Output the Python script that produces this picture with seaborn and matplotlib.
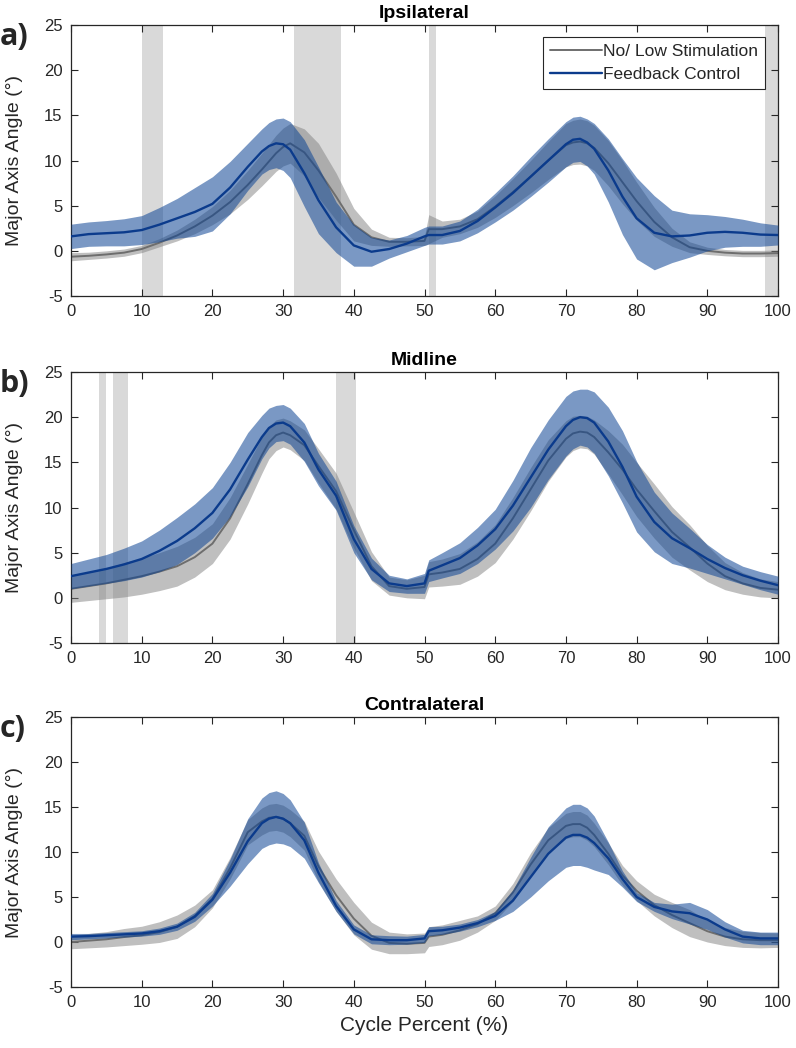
import numpy as np
import pandas as pd
import matplotlib
matplotlib.use("Agg")
import matplotlib.pyplot as plt
from matplotlib.lines import Line2D
import seaborn as sns

# ---------------- data ----------------
X = [0, 2.5, 5, 7.5, 10, 12.5, 15, 17.5, 20, 22.5, 25,
     27, 28, 29, 30, 31,
     33, 35, 37.5, 40, 42.5, 45, 47.5, 50,
     50.6, 52.5, 55, 57.5, 60, 62.5, 65, 67.5,
     70, 71, 72, 73, 74,
     76, 78, 80, 82.5, 85, 87.5, 90, 92.5, 95, 97.5, 100]

# Panel a - Ipsilateral
a_low_mean = [-0.65, -0.55, -0.4, -0.2, 0.2, 0.9, 1.7, 2.7, 3.9, 5.4, 7.3,
              9.0, 9.9, 10.8, 11.5, 11.9,
              10.9, 8.9, 6.0, 2.9, 1.5, 1.0, 1.0, 1.1,
              2.4, 2.4, 2.7, 3.5, 4.9, 6.5, 8.2, 10.0,
              11.7, 12.0, 12.1, 11.9, 11.4,
              9.7, 7.6, 5.5, 3.2, 1.5, 0.4, 0.0, -0.2, -0.3, -0.3, -0.25]
a_low_sd = [0.45, 0.4, 0.4, 0.4, 0.4, 0.45, 0.6, 0.8, 1.0, 1.3, 1.6,
            1.8, 1.9, 2.0, 2.1, 2.2,
            2.6, 3.0, 2.6, 1.8, 0.9, 0.5, 0.45, 0.5,
            1.6, 0.9, 0.8, 0.9, 1.2, 1.5, 1.8, 2.1,
            2.4, 2.45, 2.5, 2.5, 2.5,
            2.5, 2.4, 2.1, 1.6, 1.0, 0.6, 0.4, 0.35, 0.35, 0.35, 0.35]
a_fb_mean = [1.6, 1.85, 1.95, 2.05, 2.3, 2.9, 3.6, 4.3, 5.2, 7.0, 9.3,
             11.0, 11.6, 11.9, 11.8, 11.2,
             8.6, 5.6, 2.6, 0.6, -0.1, 0.2, 0.8, 1.6,
             1.75, 1.75, 2.2, 3.3, 4.8, 6.4, 8.2, 10.0,
             11.8, 12.3, 12.4, 12.0, 11.3,
             8.9, 6.0, 3.6, 2.0, 1.6, 1.7, 2.0, 2.1, 2.0, 1.8, 1.75]
a_fb_sd = [1.35, 1.35, 1.4, 1.5, 1.6, 1.9, 2.2, 2.7, 3.0, 2.9, 2.6,
           2.5, 2.6, 2.7, 2.9, 3.1,
           3.7, 3.7, 2.8, 2.3, 1.6, 1.0, 0.9, 1.0,
           1.0, 1.0, 1.1, 1.3, 1.6, 1.9, 2.2, 2.4,
           2.5, 2.5, 2.5, 2.6, 2.8,
           3.5, 4.2, 4.5, 4.1, 2.9, 2.4, 2.0, 1.7, 1.5, 1.3, 1.1]
a_sig = [(10.0, 13.0), (31.5, 38.2), (50.6, 51.6), (98.2, 100.0)]

# Panel b - Midline
b_low_mean = [1.0, 1.3, 1.6, 2.0, 2.4, 2.9, 3.5, 4.5, 6.0, 8.8, 12.6,
              15.8, 17.2, 18.0, 18.3, 18.0,
              16.9, 14.6, 11.8, 7.5, 3.5, 1.3, 1.0, 1.2,
              2.6, 2.8, 3.2, 4.3, 6.0, 8.8, 12.0, 15.2,
              17.6, 18.2, 18.4, 18.3, 17.8,
              16.1, 14.2, 12.0, 9.6, 7.3, 5.6, 3.8, 2.4, 1.6, 1.1, 0.9]
b_low_sd = [1.5, 1.6, 1.7, 1.9, 2.0, 2.1, 2.2, 2.2, 2.2, 2.3, 2.2,
            2.0, 1.8, 1.7, 1.6, 1.6,
            1.7, 1.9, 2.0, 2.0, 1.6, 1.0, 1.0, 1.3,
            1.4, 1.5, 1.7, 1.9, 2.1, 2.3, 2.4, 2.3,
            2.0, 1.9, 1.8, 1.8, 1.9,
            2.4, 2.8, 3.0, 3.0, 2.8, 2.5, 2.0, 1.5, 1.2, 1.0, 0.9]
b_fb_mean = [2.4, 2.8, 3.2, 3.7, 4.3, 5.2, 6.3, 7.7, 9.4, 12.0, 15.3,
             17.8, 18.8, 19.3, 19.4, 19.0,
             17.2, 14.2, 11.3, 6.5, 3.2, 1.6, 1.3, 1.6,
             3.0, 3.6, 4.4, 5.8, 7.6, 10.2, 13.3, 16.4,
             19.0, 19.7, 20.0, 19.9, 19.4,
             17.3, 14.5, 11.2, 8.4, 6.6, 5.5, 4.3, 3.3, 2.5, 1.9, 1.4]
b_fb_sd = [1.4, 1.5, 1.6, 1.8, 2.0, 2.3, 2.6, 2.7, 2.8, 3.0, 3.0,
           2.4, 2.2, 2.0, 2.0, 2.0,
           2.1, 1.8, 1.6, 1.5, 1.2, 0.9, 0.8, 1.1,
           1.2, 1.4, 1.7, 2.0, 2.2, 2.8, 3.3, 3.3,
           3.3, 3.2, 3.1, 3.2, 3.4,
           3.8, 4.0, 3.9, 3.3, 2.8, 2.2, 1.6, 1.2, 1.0, 1.0, 1.0]
b_sig = [(4.0, 5.0), (6.0, 8.0), (37.5, 40.3)]

# Panel c - Contralateral
c_low_mean = [0.0, 0.15, 0.3, 0.55, 0.75, 1.1, 1.7, 2.9, 4.8, 8.2, 12.2,
              13.4, 13.8, 13.9, 13.7, 13.2,
              11.8, 8.4, 5.2, 2.6, 0.7, -0.1, -0.2, -0.1,
              0.6, 0.8, 1.3, 2.0, 3.2, 5.5, 8.6, 11.3,
              12.9, 13.1, 13.1, 12.7, 11.9,
              9.8, 7.4, 5.7, 4.1, 3.0, 2.1, 1.2, 0.6, 0.3, 0.2, 0.2]
c_low_sd = [0.75, 0.8, 0.85, 0.95, 1.0, 1.15, 1.3, 1.2, 1.0, 1.2, 1.4,
            1.5, 1.5, 1.5, 1.5, 1.5,
            1.6, 1.7, 1.8, 1.8, 1.5, 1.2, 1.1, 1.1,
            1.1, 1.1, 1.1, 0.9, 0.8, 1.0, 1.3, 1.4,
            1.4, 1.4, 1.4, 1.4, 1.3,
            1.2, 1.1, 1.1, 1.2, 1.4, 1.5, 1.2, 1.0, 0.9, 0.85, 0.8]
c_fb_mean = [0.6, 0.65, 0.75, 0.85, 0.95, 1.2, 1.7, 2.8, 4.7, 7.7, 11.2,
             13.2, 13.7, 13.9, 13.7, 13.2,
             11.3, 7.7, 4.0, 1.4, 0.3, 0.2, 0.2, 0.4,
             1.2, 1.3, 1.6, 2.1, 2.9, 4.6, 7.2, 9.8,
             11.6, 11.9, 11.9, 11.6, 11.0,
             9.3, 7.0, 5.0, 3.9, 3.4, 3.2, 2.5, 1.4, 0.6, 0.4, 0.4]
c_fb_sd = [0.35, 0.3, 0.3, 0.3, 0.3, 0.35, 0.4, 0.5, 0.7, 1.5, 2.5,
           2.8, 2.9, 2.9, 2.8, 2.6,
           2.0, 1.1, 0.6, 0.5, 0.5, 0.5, 0.45, 0.45,
           0.5, 0.45, 0.4, 0.4, 0.5, 1.2, 2.2, 3.0,
           3.3, 3.4, 3.4, 3.3, 3.0,
           1.8, 0.9, 0.5, 0.5, 0.8, 1.2, 1.1, 0.85, 0.7, 0.7, 0.7]
c_sig = []

titles = ["Ipsilateral", "Midline", "Contralateral"]
panel_tags = ["a)", "b)", "c)"]
series_names = ["No/ Low Stimulation", "Feedback Control"]
x_ticks = list(range(0, 101, 10))
y_ticks = list(range(-5, 26, 5))

# ---------------- style ----------------
sns.set_theme(style="ticks")
plt.rcParams['font.family'] = ['Liberation Sans', 'DejaVu Sans']

GRAY_FILL = "#808080"
GRAY_LINE = "#6e6e6e"
BLUE_FILL = (13 / 255, 68 / 255, 148 / 255)
BLUE_LINE = "#0b3b8c"
SIG_COL = "#d9d9d9"
AX_COL = "#262626"

W, H = 796, 1048
fig = plt.figure(figsize=(W / 100, H / 100), dpi=100)

panels = [
    (a_low_mean, a_low_sd, a_fb_mean, a_fb_sd, a_sig, 25, 296),
    (b_low_mean, b_low_sd, b_fb_mean, b_fb_sd, b_sig, 372, 643),
    (c_low_mean, c_low_sd, c_fb_mean, c_fb_sd, c_sig, 717, 987),
]
left_px, right_px = 71, 778

for i, (lm, ls, fm, fs, sig, top, bot) in enumerate(panels):
    ax = fig.add_axes([left_px / W, 1 - bot / H, (right_px - left_px) / W, (bot - top) / H])
    df = pd.DataFrame({"x": X, "low_m": lm, "low_s": ls, "fb_m": fm, "fb_s": fs})
    for lo, hi in sig:
        ax.axvspan(lo, hi, color=SIG_COL, lw=0, zorder=0)
    ax.fill_between(df.x, df.low_m - df.low_s, df.low_m + df.low_s,
                    color=GRAY_FILL, alpha=0.5, lw=0, zorder=1)
    sns.lineplot(data=df, x="x", y="low_m", color=GRAY_LINE, lw=1.4, ax=ax, zorder=2)
    ax.fill_between(df.x, df.fb_m - df.fb_s, df.fb_m + df.fb_s,
                    color=BLUE_FILL, alpha=0.55, lw=0, zorder=3)
    sns.lineplot(data=df, x="x", y="fb_m", color=BLUE_LINE, lw=1.7, ax=ax, zorder=4)

    ax.set_xlim(0, 100)
    ax.set_ylim(-5, 25)
    ax.set_xticks(x_ticks)
    ax.set_yticks(y_ticks)
    ax.set_xticklabels([str(t) for t in x_ticks])
    ax.set_yticklabels([str(t) for t in y_ticks])
    ax.tick_params(direction="in", top=True, right=True, length=5, width=0.8,
                   labelsize=12, colors=AX_COL, pad=6)
    for sp in ax.spines.values():
        sp.set_color(AX_COL)
        sp.set_linewidth(0.9)
    ax.set_xlabel("")
    ax.set_ylabel("Major Axis Angle (°)", fontsize=14, color=AX_COL)
    ax.yaxis.set_label_coords(-0.068, 0.5)
    ax.set_title(titles[i], fontsize=14, fontweight="bold", color="black", pad=5)
    fig.text(0.0, 1 - (top - 3) / H, panel_tags[i], fontsize=22, fontweight="bold",
             family=["Open Sans", "DejaVu Sans"], ha="left", va="top")

    if i == 0:
        handles = [Line2D([], [], color=GRAY_LINE, lw=1.4),
                   Line2D([], [], color=BLUE_LINE, lw=1.7)]
        leg = ax.legend(handles, series_names, loc="upper right",
                        bbox_to_anchor=(0.982, 0.955), fontsize=12.5, frameon=True,
                        fancybox=False, framealpha=1, edgecolor=AX_COL,
                        handlelength=3.0, handletextpad=0.1, borderpad=0.4,
                        labelspacing=0.45, borderaxespad=0)
        leg.get_frame().set_linewidth(0.8)
    if i == 2:
        ax.set_xlabel("Cycle Percent (%)", fontsize=15, color=AX_COL, labelpad=4)

fig.savefig("out.png", dpi=100)
